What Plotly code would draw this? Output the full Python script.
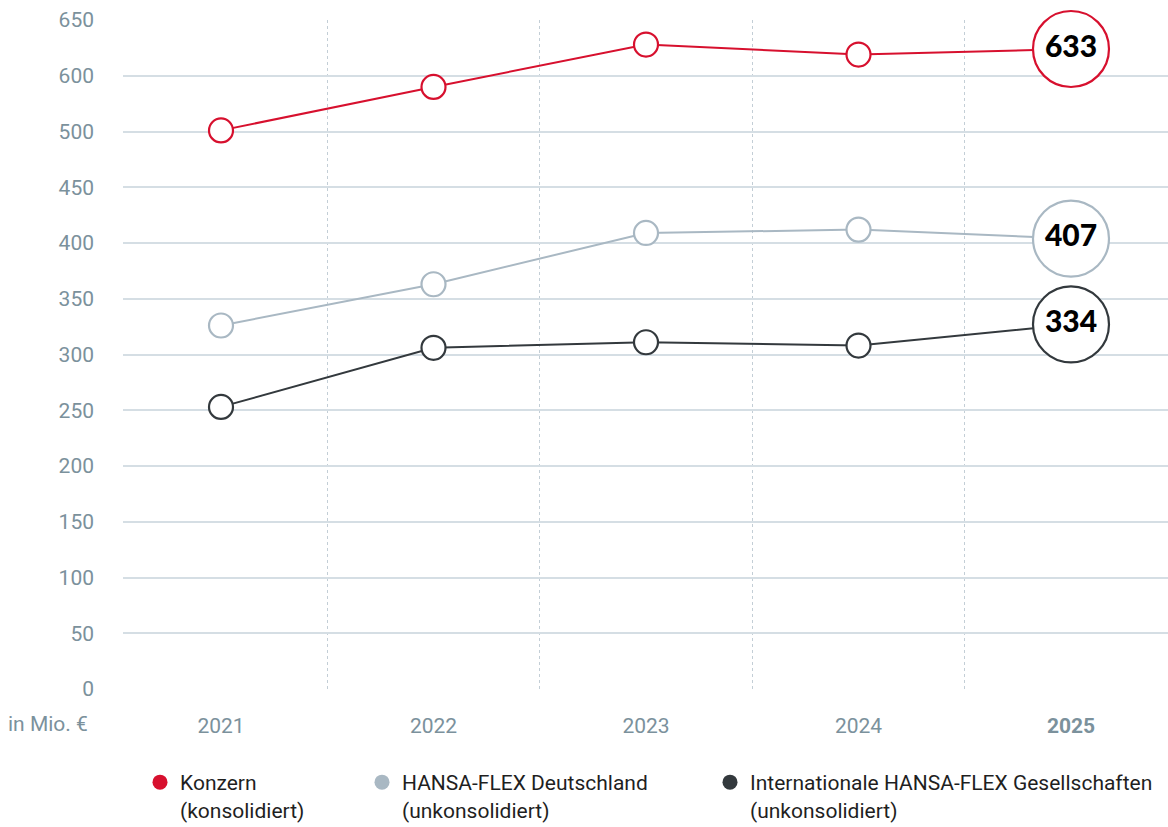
import plotly.graph_objects as go

# ---- data ----
years = [2021, 2022, 2023, 2024, 2025]
konzern = [501, 540, 578, 569, 574]
deutschland = [326, 363, 409, 412, 404]
international = [253, 306, 311, 308, 327]
end_labels = ["633", "407", "334"]

y_tickvals = [0, 50, 100, 150, 200, 250, 300, 350, 400, 450, 500, 550, 600]
y_ticktext = ["0", "50", "100", "150", "200", "250", "300", "350", "400", "450", "500", "600", "650"]
x_ticktext = ["2021", "2022", "2023", "2024", "<b>2025</b>"]
boundaries = [2021.5, 2022.5, 2023.5, 2024.5]

series_names = ["Konzern<br>(konsolidiert)",
                "HANSA-FLEX Deutschland<br>(unkonsolidiert)",
                "Internationale HANSA-FLEX Gesellschaften<br>(unkonsolidiert)"]
colors = ["#d7102e", "#a9b8c3", "#33393d"]
series = [konzern, deutschland, international]

TICK_COLOR = "#7b919c"
FONT = "Roboto"
W, H = 1168, 827

fig = go.Figure()

for i, (vals, col) in enumerate(zip(series, colors)):
    n = len(vals)
    sizes = [24] * (n - 1) + [76]
    texts = [""] * (n - 1) + [end_labels[i]]
    fig.add_trace(go.Scatter(
        x=years, y=vals, mode="lines+markers+text",
        line=dict(color=col, width=2),
        marker=dict(size=sizes, color="white", line=dict(color=col, width=2.2), opacity=1),
        text=texts, textposition="middle center",
        textfont=dict(family="Lato, sans-serif", size=30, color="#000000", weight=900),
        cliponaxis=False, showlegend=False, hoverinfo="skip",
    ))

# legend-only dummy traces (one per legend)
legend_ids = ["legend", "legend2", "legend3"]
for name, col, lid in zip(series_names, colors, legend_ids):
    fig.add_trace(go.Scatter(
        x=[None], y=[None], mode="markers", name=name,
        marker=dict(size=15, color=col), showlegend=True, legend=lid,
    ))

leg_common = dict(
    orientation="v", xanchor="left", yanchor="top",
    xref="container", yref="container",
    font=dict(family=FONT, size=21, color="#1f1f1f"),
    bgcolor="rgba(0,0,0,0)", borderwidth=0, valign="top",
    itemclick=False, itemdoubleclick=False,
)
leg_y = (H - 762) / H
fig.update_layout(
    legend=dict(x=140 / W, y=leg_y, **leg_common),
    legend2=dict(x=362 / W, y=leg_y, **leg_common),
    legend3=dict(x=710 / W, y=leg_y, **leg_common),
)

fig.update_xaxes(
    range=[2020.5388, 2025.4565],
    tickmode="array", tickvals=years, ticktext=x_ticktext,
    showgrid=False, zeroline=False, showline=False,
    ticks="", ticklabelstandoff=22,
    tickfont=dict(family=FONT, size=21, color=TICK_COLOR),
    minor=dict(tickmode="array", tickvals=boundaries, showgrid=True,
               gridcolor="#c3ced6", griddash="dot", gridwidth=1, ticks=""),
    fixedrange=True, automargin=False,
)
fig.update_yaxes(
    range=[0, 600],
    tickmode="array", tickvals=y_tickvals, ticktext=y_ticktext,
    showgrid=True, gridcolor="#d5dee4", gridwidth=2,
    zeroline=False, showline=False, ticks="",
    ticklabelstandoff=28,
    tickfont=dict(family=FONT, size=21, color=TICK_COLOR),
    fixedrange=True, automargin=False,
)

fig.add_annotation(
    text="in Mio. €", xref="paper", yref="paper", x=0, y=0,
    xanchor="right", yanchor="middle", xshift=-33, yshift=-35,
    showarrow=False, font=dict(family=FONT, size=21, color=TICK_COLOR),
)

fig.update_layout(
    width=W, height=H,
    margin=dict(l=123, r=0, t=20, b=138, autoexpand=False),
    plot_bgcolor="white", paper_bgcolor="white",
    font=dict(family=FONT),
)

fig.write_html("out.html", config={"displayModeBar": False})
